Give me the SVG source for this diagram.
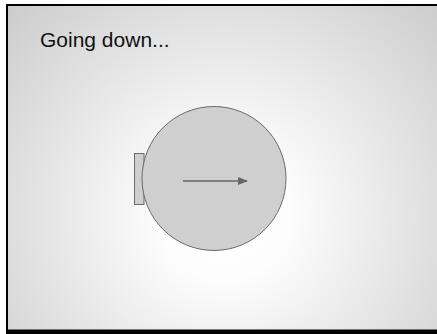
<svg xmlns="http://www.w3.org/2000/svg" width="437" height="334" viewBox="0 0 437 334">
  <defs>
    <radialGradient id="bg" gradientUnits="userSpaceOnUse" cx="225" cy="215" r="320">
      <stop offset="0" stop-color="#ffffff"/>
      <stop offset="0.2" stop-color="#fdfdfd"/>
      <stop offset="1" stop-color="#c8c8c8"/>
    </radialGradient>
    <marker id="ah" markerWidth="10" markerHeight="8" refX="9" refY="4" orient="auto" markerUnits="userSpaceOnUse">
      <path d="M0,0 L10,4 L0,8 Z" fill="#666666"/>
    </marker>
  </defs>
  <style>
    .lbl { font-family: "Liberation Sans", Arial, sans-serif; font-size: 21px; fill: #111111; }
    .shape { fill: #cfcfcf; stroke: #6a6a6a; stroke-width: 1; }
  </style>
  <rect x="0" y="0" width="437" height="334" fill="#ffffff"/>
  <rect x="7" y="5" width="440" height="334" fill="url(#bg)"/>
  <path d="M6,5 H440 M7,5 V330" fill="none" stroke="#000000" stroke-width="2"/>
  <rect x="6" y="329.5" width="434" height="4.5" fill="#000000"/>
  <text class="lbl" x="40" y="47">Going down...</text>
  <g id="node-tab">
    <rect class="shape" x="134.5" y="153.5" width="9.5" height="51"/>
  </g>
  <g id="node-circle">
    <circle class="shape" cx="214" cy="178.5" r="72"/>
  </g>
  <g id="connectors">
    <line x1="183" y1="181" x2="247" y2="181" stroke="#666666" stroke-width="1.5" marker-end="url(#ah)"/>
  </g>
</svg>
